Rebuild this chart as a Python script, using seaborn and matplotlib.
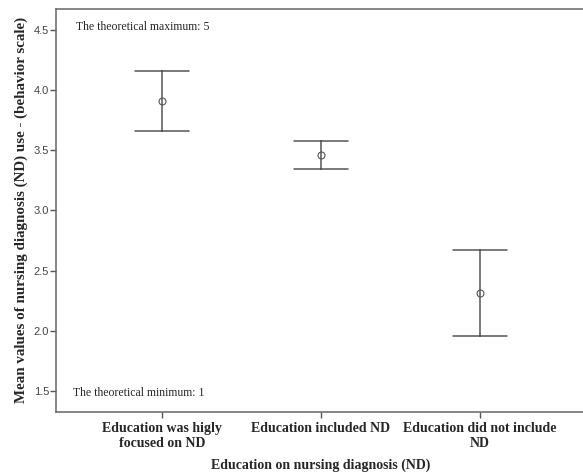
import pandas as pd
import seaborn as sns
import matplotlib.pyplot as plt

groups = ['Education was higly\nfocused on ND', 'Education included ND', 'Education did not include\nND']
means = [3.906, 3.459, 2.315]
lower = [3.655, 3.343, 1.956]
upper = [4.154, 3.572, 2.674]

# long table: lower / mean / upper per group, median = mean, full range = CI
rows = []
for g, lo, m, hi in zip(groups, lower, means, upper):
    for v in (lo, m, hi):
        rows.append({'group': g, 'value': v})
df = pd.DataFrame(rows)

sns.set_style('white')
plt.rcParams['font.family'] = ['Liberation Serif', 'DejaVu Serif']

fig, ax = plt.subplots(figsize=(5.83, 4.74), dpi=100)
fig.subplots_adjust(left=0.096, right=1.005, top=0.982, bottom=0.131)

gray = '#555555'
sns.pointplot(data=df, x='group', y='value', estimator='median', errorbar=('pi', 100),
              order=groups, color=gray, linestyle='none', markers='o', capsize=0.34,
              markersize=5, markerfacecolor='white', markeredgewidth=0.8,
              err_kws={'linewidth': 1.1}, ax=ax)

ax.set_xlim(-0.667, 2.667)
ax.set_ylim(1.33, 4.674)
ax.set_yticks([1.5, 2.0, 2.5, 3.0, 3.5, 4.0, 4.5])
ax.set_yticklabels(['1.5', '2.0', '2.5', '3.0', '3.5', '4.0', '4.5'],
                   family=['Liberation Sans', 'DejaVu Sans'], fontsize=8, color='#444444')
ax.set_xticks(range(3))
ax.set_xticklabels(groups, fontweight='bold', fontsize=10)
for t in ax.get_xticklabels():
    t.set_linespacing(1.25)

ax.tick_params(axis='both', direction='out', length=4, width=1, color=gray,
               bottom=True, left=True, pad=1)
ax.tick_params(axis='x', pad=3)
for s in ax.spines.values():
    s.set_color('#666666')
    s.set_linewidth(1.1)

ax.set_xlabel('Education on nursing diagnosis (ND)', fontweight='bold', fontsize=10, labelpad=6)
ax.set_ylabel('Mean values of nursing diagnosis (ND) use - (behavior scale)',
              fontweight='bold', fontsize=10.8, labelpad=4)

ax.text(0.037, 0.955, 'The theoretical maximum: 5', transform=ax.transAxes, fontsize=8.5,
        va='center', ha='left')
ax.text(0.032, 0.047, 'The theoretical minimum: 1', transform=ax.transAxes, fontsize=8.5,
        va='center', ha='left')

fig.savefig('out.png', dpi=100)
